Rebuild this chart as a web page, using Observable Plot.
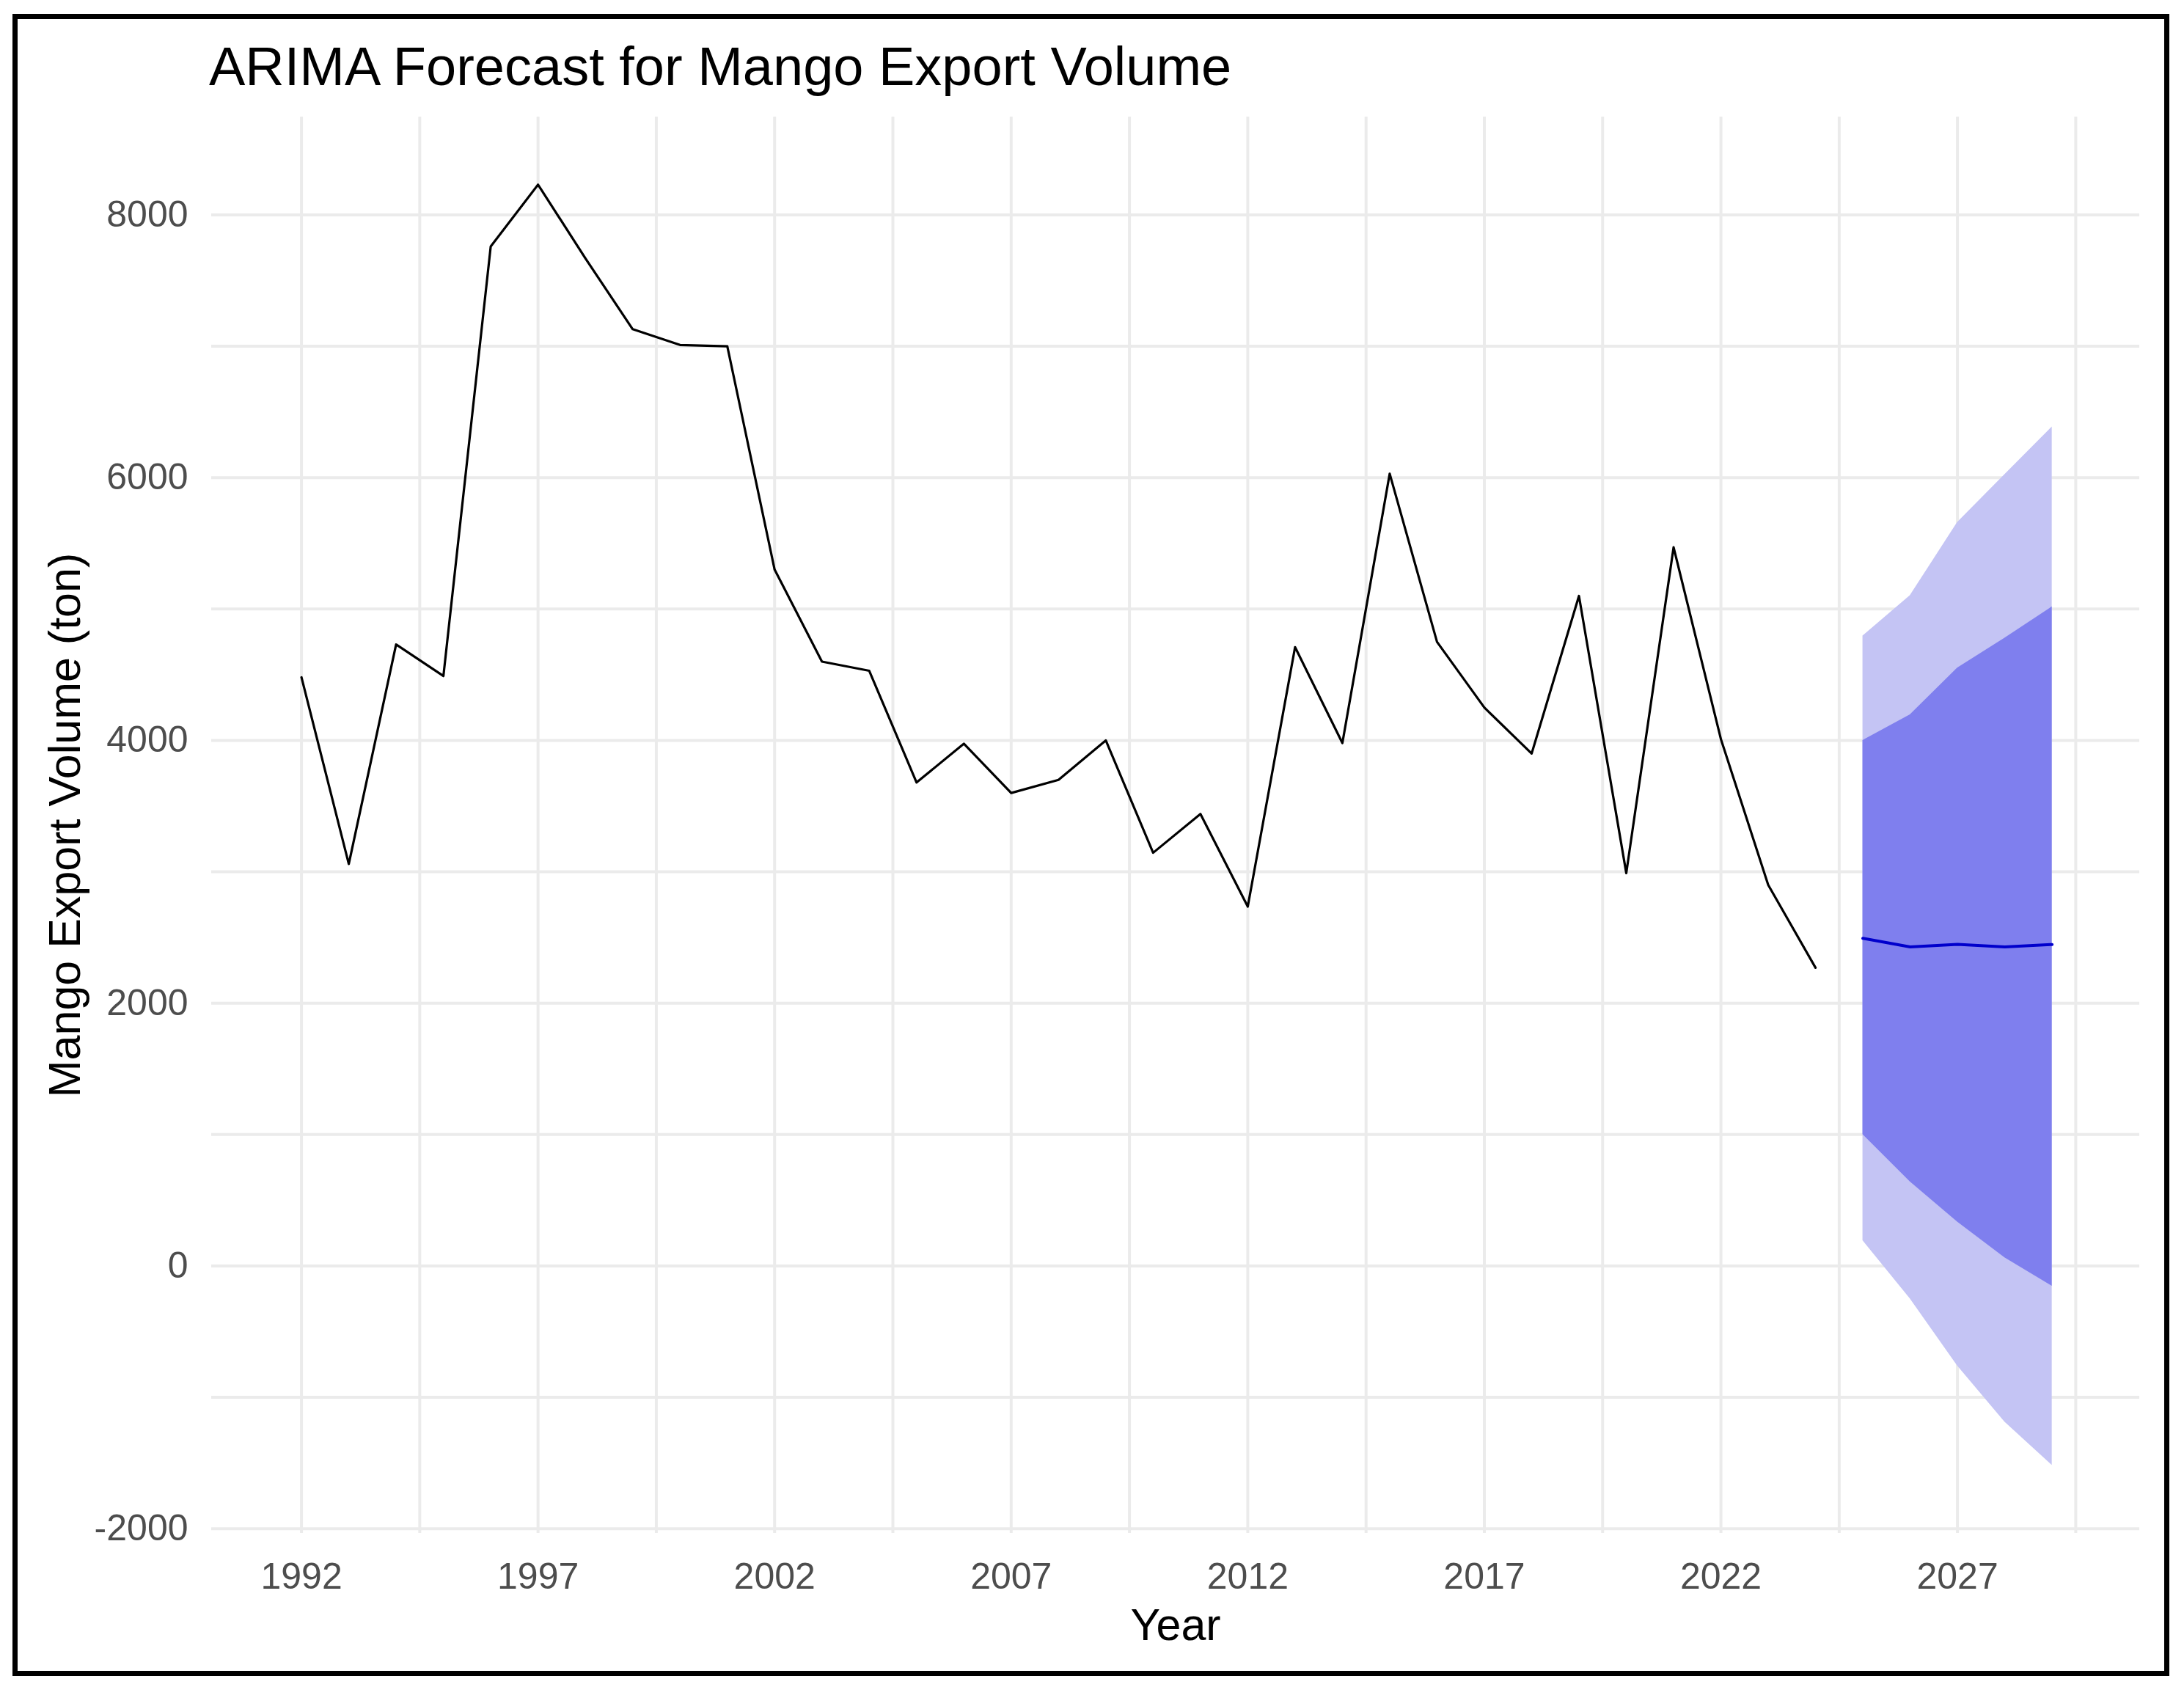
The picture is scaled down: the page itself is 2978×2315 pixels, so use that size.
<!DOCTYPE html>
<html>
<head>
<meta charset="utf-8">
<script src="https://cdn.jsdelivr.net/npm/d3@7"></script>
<script src="https://cdn.jsdelivr.net/npm/@observablehq/plot@0.6"></script>
<style>
  html, body { margin: 0; padding: 0; background: #ffffff; }
  #page { position: relative; width: 2978px; height: 2315px; overflow: hidden; }
  #frame { position: absolute; left: 17px; top: 19px; width: 2941px; height: 2266px; border: 7px solid #000; box-sizing: border-box; pointer-events: none; }
  #title { position: absolute; left: 285px; top: 54px; font-family: "Liberation Sans", Arial, sans-serif; font-size: 74px; line-height: 1; color: #000; white-space: nowrap; }
  #chart { position: absolute; left: 0; top: 0; }
</style>
</head>
<body>
<div id="page">
  <div id="chart"></div>
  <div id="title">ARIMA Forecast for Mango Export Volume</div>
  <div id="frame"></div>
</div>
<script>
// Historical series
const years = [1992,1993,1994,1995,1996,1997,1998,1999,2000,2001,2002,2003,2004,2005,2006,2007,2008,2009,2010,2011,2012,2013,2014,2015,2016,2017,2018,2019,2020,2021,2022,2023,2024];
const volume = [4480,3060,4730,4490,7760,8230,7670,7130,7010,7000,5300,4600,4530,3680,3975,3600,3700,4000,3145,3440,2735,4710,3980,6030,4750,4250,3900,5100,2990,5470,4010,2900,2270];

// Forecast
const forecastYears = [2025,2026,2027,2028,2029];
const forecastMean = [2494,2428,2448,2428,2447];
const lo80 = [1000,640,335,62,-153];
const hi80 = [4000,4195,4551,4778,5017];
const lo95 = [193,-250,-761,-1188,-1517];
const hi95 = [4795,5102,5659,6023,6386];

// Axes
const xTicks = [1992,1997,2002,2007,2012,2017,2022,2027];
const xGrid = [1992,1994.5,1997,1999.5,2002,2004.5,2007,2009.5,2012,2014.5,2017,2019.5,2022,2024.5,2027,2029.5];
const yTicks = [-2000,0,2000,4000,6000,8000];
const yGrid = [-2000,-1000,0,1000,2000,3000,4000,5000,6000,7000,8000];

const titleText = "ARIMA Forecast for Mango Export Volume";
const xLabel = "Year";
const yLabel = "Mango Export Volume (ton)";

const history = years.map((y, i) => ({year: y, value: volume[i]}));
const forecast = forecastYears.map((y, i) => ({year: y, mean: forecastMean[i], lo80: lo80[i], hi80: hi80[i], lo95: lo95[i], hi95: hi95[i]}));

const W = 2978, H = 2315;
const chart = Plot.plot({
  width: W,
  height: H,
  marginLeft: 288,
  marginRight: 61,
  marginTop: 159,
  marginBottom: 225,
  style: {fontFamily: "'Liberation Sans', Arial, sans-serif", fontSize: "50px", background: "transparent", color: "#4D4D4D"},
  x: {domain: [1990.1, 2030.85]},
  y: {domain: [-2035, 8745]},
  marks: [
    Plot.gridY(yGrid, {stroke: "#EBEBEB", strokeOpacity: 1, strokeWidth: 4}),
    Plot.gridX(xGrid, {stroke: "#EBEBEB", strokeOpacity: 1, strokeWidth: 4}),
    Plot.areaY(forecast, {x: "year", y1: "lo95", y2: "hi95", fill: "#C4C4F4"}),
    Plot.areaY(forecast, {x: "year", y1: "lo80", y2: "hi80", fill: "#7F7FEE"}),
    Plot.lineY(forecast, {x: "year", y: "mean", stroke: "#0000CC", strokeWidth: 4}),
    Plot.lineY(history, {x: "year", y: "value", stroke: "#000000", strokeWidth: 3.2}),
    Plot.axisX(xTicks, {tickSize: 0, tickPadding: 40, tickFormat: d => String(d), label: null, fontSize: 50}),
    Plot.axisY(yTicks, {tickSize: 0, tickPadding: 32, tickFormat: d => String(d), label: null, fontSize: 50}),
    Plot.text([xLabel], {frameAnchor: "bottom", lineAnchor: "bottom", textAnchor: "middle", dy: 145, fontSize: 61, fill: "#000000"}),
    Plot.text([yLabel], {frameAnchor: "left", lineAnchor: "bottom", textAnchor: "middle", rotate: -90, dx: -180, fontSize: 61, fill: "#000000"})
  ]
});
document.getElementById("chart").appendChild(chart);
</script>
</body>
</html>
